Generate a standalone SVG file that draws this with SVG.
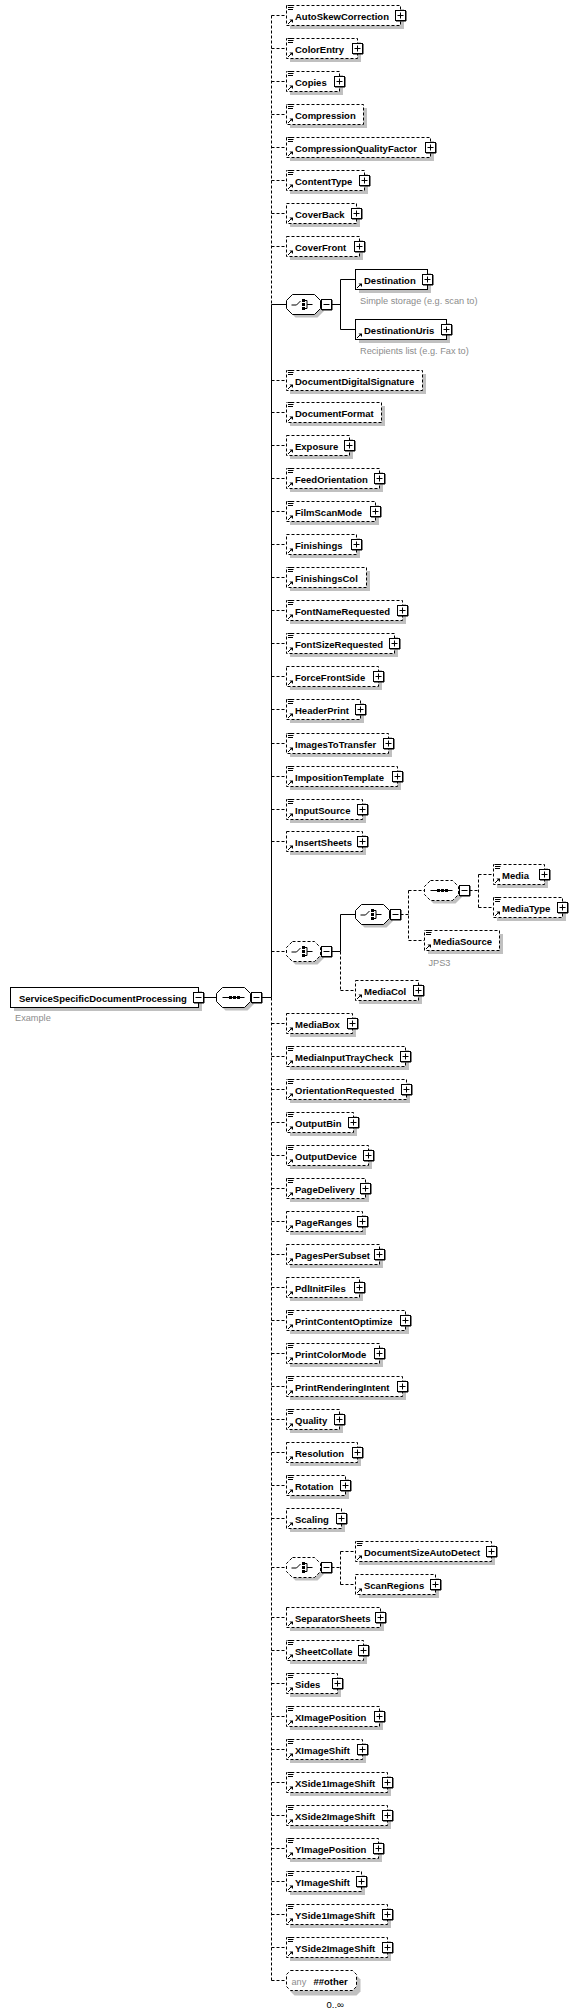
<svg xmlns="http://www.w3.org/2000/svg" xmlns:xlink="http://www.w3.org/1999/xlink" width="576" height="2016" viewBox="0 0 576 2016">
<style>
text{font-family:"Liberation Sans",Arial,sans-serif}
.n text{font-size:9.5px;font-weight:bold;fill:#000}
.n text.a,text.a{font-size:9.2px;fill:#8c8c8c;font-weight:normal}
.n text.m{font-size:9.5px;font-weight:normal;fill:#000}
.sh{fill:#c0c0c0;stroke:none}
.bo{fill:#fff;stroke:#000;stroke-dasharray:3 2}
.bm{fill:#fff;stroke:#000}
.ln{fill:none;stroke:#000}
.dl{fill:none;stroke:#000;stroke-dasharray:3 2}
</style>
<defs>
<g id="plus"><rect x="-5" y="-5" width="10" height="10" fill="#fff" stroke="#000"/><path d="M5.5 -4.5V5.5H-4.5" fill="none" stroke="#000"/><path d="M-3 0H3M0 -3V3" stroke="#000"/></g>
<g id="minus"><rect x="-5" y="-5" width="10" height="10" fill="#fff" stroke="#000"/><path d="M5.5 -4.5V5.5H-4.5" fill="none" stroke="#000"/><path d="M-3 0H3" stroke="#000"/></g>
<g id="doc"><rect x="1" y="-10.5" width="7" height="6" fill="#fff"/><path d="M1.5 -10H7.5M1.5 -8H7M1.5 -6H6.5" stroke="#000" fill="none"/></g>
<g id="ref"><path d="M1.5 8.5L5 5" stroke="#000" fill="none"/><path d="M3 4H6.5V7.5Z" fill="#000"/></g>
<polygon id="oct" points="6,-10 28,-10 34,-4 34,4 28,10 6,10 0,4 0,-4"/>
<g id="chc"><path d="M5 0.5H10L14 -3.5" stroke="#000" fill="none"/><rect x="15.5" y="-5.5" width="3" height="3" fill="#000"/><rect x="15.5" y="-1.5" width="3" height="3" fill="#000"/><rect x="15.5" y="2.5" width="3" height="3" fill="#000"/><path d="M18 -4H20.5V4H18M20.5 0H26" stroke="#000" fill="none"/></g>
<g id="seq"><path d="M6 0H28" stroke="#000" fill="none"/><rect x="12.5" y="-1.5" width="3" height="3" fill="#000"/><rect x="16.5" y="-1.5" width="3" height="3" fill="#000"/><rect x="20.5" y="-1.5" width="3" height="3" fill="#000"/></g>
</defs>

<g id="connectors">
<path class="dl" d="M271.5 15.5V304.5M271.5 997.5V1980.5"/>
<path class="ln" d="M271.5 304.5V997.5"/>
<path class="ln" d="M203.5 997.5H216.5M261.5 997.5H271.5"/>
<path class="dl" d="M271.5 15.5H286.5M271.5 48.5H286.5M271.5 81.5H286.5M271.5 114.5H286.5M271.5 147.5H286.5M271.5 180.5H286.5M271.5 213.5H286.5M271.5 246.5H286.5M271.5 380.5H286.5M271.5 412.5H286.5M271.5 445.5H286.5M271.5 478.5H286.5M271.5 511.5H286.5M271.5 544.5H286.5M271.5 577.5H286.5M271.5 610.5H286.5M271.5 643.5H286.5M271.5 676.5H286.5M271.5 709.5H286.5M271.5 743.5H286.5M271.5 776.5H286.5M271.5 809.5H286.5M271.5 841.5H286.5M271.5 951.5H286.5M271.5 1023.5H286.5M271.5 1056.5H286.5M271.5 1089.5H286.5M271.5 1122.5H286.5M271.5 1155.5H286.5M271.5 1188.5H286.5M271.5 1221.5H286.5M271.5 1254.5H286.5M271.5 1287.5H286.5M271.5 1320.5H286.5M271.5 1353.5H286.5M271.5 1386.5H286.5M271.5 1419.5H286.5M271.5 1452.5H286.5M271.5 1485.5H286.5M271.5 1518.5H286.5M271.5 1567.5H286.5M271.5 1617.5H286.5M271.5 1650.5H286.5M271.5 1683.5H286.5M271.5 1716.5H286.5M271.5 1749.5H286.5M271.5 1782.5H286.5M271.5 1815.5H286.5M271.5 1848.5H286.5M271.5 1881.5H286.5M271.5 1914.5H286.5M271.5 1947.5H286.5M271.5 1980.5H286.5"/>
<path class="ln" d="M271.5 304.5H286.5M331.5 304.5H340.5M340.5 279.5V329.5M340.5 279.5H355.5M340.5 329.5H355.5"/>
<path class="ln" d="M331.5 951.5H340.5M340.5 914.5V951.5M340.5 914.5H355.5"/>
<path class="dl" d="M340.5 951.5V990.5M340.5 990.5H355.5M400.5 914.5H408.5M408.5 890.5V940.5M408.5 890.5H424.5M408.5 940.5H424.5M469.5 890.5H478.5M478.5 874.5V907.5M478.5 874.5H493.5M478.5 907.5H493.5"/>
<path class="dl" d="M331.5 1567.5H340.5M340.5 1551.5V1584.5M340.5 1551.5H355.5M340.5 1584.5H355.5"/>
</g>

<g id="ServiceSpecificDocumentProcessing" class="n" transform="translate(10.5,997.5)"><rect class="sh" x="3.5" y="-6.5" width="188" height="20"/><rect class="bm" y="-10" width="188" height="20"/><text x="8.5" y="4">ServiceSpecificDocumentProcessing</text><use href="#minus" x="188"/><text class="a" x="4.5" y="23">Example</text></g>
<g id="seq-root" transform="translate(216.5,997.5)"><use href="#oct" class="sh" x="3" y="3"/><use href="#oct" class="bm"/><use href="#seq"/><use href="#minus" x="40"/></g>

<g id="AutoSkewCorrection" class="n" transform="translate(286.5,15.5)"><rect class="sh" x="3.5" y="-6.5" width="114" height="20"/><rect class="bo" y="-10" width="114" height="20"/><use href="#doc"/><use href="#ref"/><text x="8.5" y="4">AutoSkewCorrection</text><use href="#plus" x="114"/></g>
<g id="ColorEntry" class="n" transform="translate(286.5,48.5)"><rect class="sh" x="3.5" y="-6.5" width="71" height="20"/><rect class="bo" y="-10" width="71" height="20"/><use href="#doc"/><use href="#ref"/><text x="8.5" y="4">ColorEntry</text><use href="#plus" x="71"/></g>
<g id="Copies" class="n" transform="translate(286.5,81.5)"><rect class="sh" x="3.5" y="-6.5" width="53" height="20"/><rect class="bo" y="-10" width="53" height="20"/><use href="#doc"/><use href="#ref"/><text x="8.5" y="4">Copies</text><use href="#plus" x="53"/></g>
<g id="Compression" class="n" transform="translate(286.5,114.5)"><rect class="sh" x="3.5" y="-6.5" width="77" height="20"/><rect class="bo" y="-10" width="77" height="20"/><use href="#doc"/><use href="#ref"/><text x="8.5" y="4">Compression</text></g>
<g id="CompressionQualityFactor" class="n" transform="translate(286.5,147.5)"><rect class="sh" x="3.5" y="-6.5" width="144" height="20"/><rect class="bo" y="-10" width="144" height="20"/><use href="#doc"/><use href="#ref"/><text x="8.5" y="4">CompressionQualityFactor</text><use href="#plus" x="144"/></g>
<g id="ContentType" class="n" transform="translate(286.5,180.5)"><rect class="sh" x="3.5" y="-6.5" width="78" height="20"/><rect class="bo" y="-10" width="78" height="20"/><use href="#doc"/><use href="#ref"/><text x="8.5" y="4">ContentType</text><use href="#plus" x="78"/></g>
<g id="CoverBack" class="n" transform="translate(286.5,213.5)"><rect class="sh" x="3.5" y="-6.5" width="70" height="20"/><rect class="bo" y="-10" width="70" height="20"/><use href="#ref"/><text x="8.5" y="4">CoverBack</text><use href="#plus" x="70"/></g>
<g id="CoverFront" class="n" transform="translate(286.5,246.5)"><rect class="sh" x="3.5" y="-6.5" width="73" height="20"/><rect class="bo" y="-10" width="73" height="20"/><use href="#ref"/><text x="8.5" y="4">CoverFront</text><use href="#plus" x="73"/></g>

<g id="choice-destination" transform="translate(286.5,304.5)"><use href="#oct" class="sh" x="3" y="3"/><use href="#oct" class="bm"/><use href="#chc"/><use href="#minus" x="40"/></g>
<g id="Destination" class="n" transform="translate(355.5,279.5)"><rect class="sh" x="3.5" y="-6.5" width="72" height="20"/><rect class="bm" y="-10" width="72" height="20"/><use href="#ref"/><text x="8.5" y="4">Destination</text><use href="#plus" x="72"/><text class="a" x="4.5" y="24.5">Simple storage (e.g. scan to)</text></g>
<g id="DestinationUris" class="n" transform="translate(355.5,329.5)"><rect class="sh" x="3.5" y="-6.5" width="91" height="20"/><rect class="bm" y="-10" width="91" height="20"/><use href="#ref"/><text x="8.5" y="4">DestinationUris</text><use href="#plus" x="91"/><text class="a" x="4.5" y="24.5">Recipients list (e.g. Fax to)</text></g>

<g id="DocumentDigitalSignature" class="n" transform="translate(286.5,380.5)"><rect class="sh" x="3.5" y="-6.5" width="136" height="20"/><rect class="bo" y="-10" width="136" height="20"/><use href="#doc"/><use href="#ref"/><text x="8.5" y="4">DocumentDigitalSignature</text></g>
<g id="DocumentFormat" class="n" transform="translate(286.5,412.5)"><rect class="sh" x="3.5" y="-6.5" width="95" height="20"/><rect class="bo" y="-10" width="95" height="20"/><use href="#doc"/><use href="#ref"/><text x="8.5" y="4">DocumentFormat</text></g>
<g id="Exposure" class="n" transform="translate(286.5,445.5)"><rect class="sh" x="3.5" y="-6.5" width="63" height="20"/><rect class="bo" y="-10" width="63" height="20"/><use href="#ref"/><text x="8.5" y="4">Exposure</text><use href="#plus" x="63"/></g>
<g id="FeedOrientation" class="n" transform="translate(286.5,478.5)"><rect class="sh" x="3.5" y="-6.5" width="93" height="20"/><rect class="bo" y="-10" width="93" height="20"/><use href="#doc"/><use href="#ref"/><text x="8.5" y="4">FeedOrientation</text><use href="#plus" x="93"/></g>
<g id="FilmScanMode" class="n" transform="translate(286.5,511.5)"><rect class="sh" x="3.5" y="-6.5" width="89" height="20"/><rect class="bo" y="-10" width="89" height="20"/><use href="#doc"/><use href="#ref"/><text x="8.5" y="4">FilmScanMode</text><use href="#plus" x="89"/></g>
<g id="Finishings" class="n" transform="translate(286.5,544.5)"><rect class="sh" x="3.5" y="-6.5" width="70" height="20"/><rect class="bo" y="-10" width="70" height="20"/><use href="#ref"/><text x="8.5" y="4">Finishings</text><use href="#plus" x="70"/></g>
<g id="FinishingsCol" class="n" transform="translate(286.5,577.5)"><rect class="sh" x="3.5" y="-6.5" width="80" height="20"/><rect class="bo" y="-10" width="80" height="20"/><use href="#doc"/><use href="#ref"/><text x="8.5" y="4">FinishingsCol</text></g>
<g id="FontNameRequested" class="n" transform="translate(286.5,610.5)"><rect class="sh" x="3.5" y="-6.5" width="116" height="20"/><rect class="bo" y="-10" width="116" height="20"/><use href="#doc"/><use href="#ref"/><text x="8.5" y="4">FontNameRequested</text><use href="#plus" x="116"/></g>
<g id="FontSizeRequested" class="n" transform="translate(286.5,643.5)"><rect class="sh" x="3.5" y="-6.5" width="108" height="20"/><rect class="bo" y="-10" width="108" height="20"/><use href="#doc"/><use href="#ref"/><text x="8.5" y="4">FontSizeRequested</text><use href="#plus" x="108"/></g>
<g id="ForceFrontSide" class="n" transform="translate(286.5,676.5)"><rect class="sh" x="3.5" y="-6.5" width="92" height="20"/><rect class="bo" y="-10" width="92" height="20"/><use href="#ref"/><text x="8.5" y="4">ForceFrontSide</text><use href="#plus" x="92"/></g>
<g id="HeaderPrint" class="n" transform="translate(286.5,709.5)"><rect class="sh" x="3.5" y="-6.5" width="74" height="20"/><rect class="bo" y="-10" width="74" height="20"/><use href="#doc"/><use href="#ref"/><text x="8.5" y="4">HeaderPrint</text><use href="#plus" x="74"/></g>
<g id="ImagesToTransfer" class="n" transform="translate(286.5,743.5)"><rect class="sh" x="3.5" y="-6.5" width="102" height="20"/><rect class="bo" y="-10" width="102" height="20"/><use href="#doc"/><use href="#ref"/><text x="8.5" y="4">ImagesToTransfer</text><use href="#plus" x="102"/></g>
<g id="ImpositionTemplate" class="n" transform="translate(286.5,776.5)"><rect class="sh" x="3.5" y="-6.5" width="111" height="20"/><rect class="bo" y="-10" width="111" height="20"/><use href="#doc"/><use href="#ref"/><text x="8.5" y="4">ImpositionTemplate</text><use href="#plus" x="111"/></g>
<g id="InputSource" class="n" transform="translate(286.5,809.5)"><rect class="sh" x="3.5" y="-6.5" width="76" height="20"/><rect class="bo" y="-10" width="76" height="20"/><use href="#doc"/><use href="#ref"/><text x="8.5" y="4">InputSource</text><use href="#plus" x="76"/></g>
<g id="InsertSheets" class="n" transform="translate(286.5,841.5)"><rect class="sh" x="3.5" y="-6.5" width="76" height="20"/><rect class="bo" y="-10" width="76" height="20"/><use href="#ref"/><text x="8.5" y="4">InsertSheets</text><use href="#plus" x="76"/></g>

<g id="choice-media-outer" transform="translate(286.5,951.5)"><use href="#oct" class="sh" x="3" y="3"/><use href="#oct" class="bo"/><use href="#chc"/><use href="#minus" x="40"/></g>
<g id="choice-media-inner" transform="translate(355.5,914.5)"><use href="#oct" class="sh" x="3" y="3"/><use href="#oct" class="bm"/><use href="#chc"/><use href="#minus" x="40"/></g>
<g id="seq-media" transform="translate(424.5,890.5)"><use href="#oct" class="sh" x="3" y="3"/><use href="#oct" class="bo"/><use href="#seq"/><use href="#minus" x="40"/></g>
<g id="Media" class="n" transform="translate(493.5,874.5)"><rect class="sh" x="3.5" y="-6.5" width="51" height="20"/><rect class="bo" y="-10" width="51" height="20"/><use href="#doc"/><use href="#ref"/><text x="8.5" y="4">Media</text><use href="#plus" x="51"/></g>
<g id="MediaType" class="n" transform="translate(493.5,907.5)"><rect class="sh" x="3.5" y="-6.5" width="69" height="20"/><rect class="bo" y="-10" width="69" height="20"/><use href="#doc"/><use href="#ref"/><text x="8.5" y="4">MediaType</text><use href="#plus" x="69"/></g>
<g id="MediaSource" class="n" transform="translate(424.5,940.5)"><rect class="sh" x="3.5" y="-6.5" width="75" height="20"/><rect class="bo" y="-10" width="75" height="20"/><use href="#doc"/><use href="#ref"/><text x="8.5" y="4">MediaSource</text><text class="a" x="4" y="25.5">JPS3</text></g>
<g id="MediaCol" class="n" transform="translate(355.5,990.5)"><rect class="sh" x="3.5" y="-6.5" width="63" height="20"/><rect class="bo" y="-10" width="63" height="20"/><use href="#ref"/><text x="8.5" y="4">MediaCol</text><use href="#plus" x="63"/></g>

<g id="MediaBox" class="n" transform="translate(286.5,1023.5)"><rect class="sh" x="3.5" y="-6.5" width="66" height="20"/><rect class="bo" y="-10" width="66" height="20"/><use href="#ref"/><text x="8.5" y="4">MediaBox</text><use href="#plus" x="66"/></g>
<g id="MediaInputTrayCheck" class="n" transform="translate(286.5,1056.5)"><rect class="sh" x="3.5" y="-6.5" width="119" height="20"/><rect class="bo" y="-10" width="119" height="20"/><use href="#doc"/><use href="#ref"/><text x="8.5" y="4">MediaInputTrayCheck</text><use href="#plus" x="119"/></g>
<g id="OrientationRequested" class="n" transform="translate(286.5,1089.5)"><rect class="sh" x="3.5" y="-6.5" width="120" height="20"/><rect class="bo" y="-10" width="120" height="20"/><use href="#doc"/><use href="#ref"/><text x="8.5" y="4">OrientationRequested</text><use href="#plus" x="120"/></g>
<g id="OutputBin" class="n" transform="translate(286.5,1122.5)"><rect class="sh" x="3.5" y="-6.5" width="67" height="20"/><rect class="bo" y="-10" width="67" height="20"/><use href="#doc"/><use href="#ref"/><text x="8.5" y="4">OutputBin</text><use href="#plus" x="67"/></g>
<g id="OutputDevice" class="n" transform="translate(286.5,1155.5)"><rect class="sh" x="3.5" y="-6.5" width="82" height="20"/><rect class="bo" y="-10" width="82" height="20"/><use href="#doc"/><use href="#ref"/><text x="8.5" y="4">OutputDevice</text><use href="#plus" x="82"/></g>
<g id="PageDelivery" class="n" transform="translate(286.5,1188.5)"><rect class="sh" x="3.5" y="-6.5" width="79" height="20"/><rect class="bo" y="-10" width="79" height="20"/><use href="#doc"/><use href="#ref"/><text x="8.5" y="4">PageDelivery</text><use href="#plus" x="79"/></g>
<g id="PageRanges" class="n" transform="translate(286.5,1221.5)"><rect class="sh" x="3.5" y="-6.5" width="76" height="20"/><rect class="bo" y="-10" width="76" height="20"/><use href="#ref"/><text x="8.5" y="4">PageRanges</text><use href="#plus" x="76"/></g>
<g id="PagesPerSubset" class="n" transform="translate(286.5,1254.5)"><rect class="sh" x="3.5" y="-6.5" width="93" height="20"/><rect class="bo" y="-10" width="93" height="20"/><use href="#ref"/><text x="8.5" y="4">PagesPerSubset</text><use href="#plus" x="93"/></g>
<g id="PdlInitFiles" class="n" transform="translate(286.5,1287.5)"><rect class="sh" x="3.5" y="-6.5" width="73" height="20"/><rect class="bo" y="-10" width="73" height="20"/><use href="#ref"/><text x="8.5" y="4">PdlInitFiles</text><use href="#plus" x="73"/></g>
<g id="PrintContentOptimize" class="n" transform="translate(286.5,1320.5)"><rect class="sh" x="3.5" y="-6.5" width="119" height="20"/><rect class="bo" y="-10" width="119" height="20"/><use href="#doc"/><use href="#ref"/><text x="8.5" y="4">PrintContentOptimize</text><use href="#plus" x="119"/></g>
<g id="PrintColorMode" class="n" transform="translate(286.5,1353.5)"><rect class="sh" x="3.5" y="-6.5" width="93" height="20"/><rect class="bo" y="-10" width="93" height="20"/><use href="#doc"/><use href="#ref"/><text x="8.5" y="4">PrintColorMode</text><use href="#plus" x="93"/></g>
<g id="PrintRenderingIntent" class="n" transform="translate(286.5,1386.5)"><rect class="sh" x="3.5" y="-6.5" width="116" height="20"/><rect class="bo" y="-10" width="116" height="20"/><use href="#doc"/><use href="#ref"/><text x="8.5" y="4">PrintRenderingIntent</text><use href="#plus" x="116"/></g>
<g id="Quality" class="n" transform="translate(286.5,1419.5)"><rect class="sh" x="3.5" y="-6.5" width="53" height="20"/><rect class="bo" y="-10" width="53" height="20"/><use href="#doc"/><use href="#ref"/><text x="8.5" y="4">Quality</text><use href="#plus" x="53"/></g>
<g id="Resolution" class="n" transform="translate(286.5,1452.5)"><rect class="sh" x="3.5" y="-6.5" width="71" height="20"/><rect class="bo" y="-10" width="71" height="20"/><use href="#ref"/><text x="8.5" y="4">Resolution</text><use href="#plus" x="71"/></g>
<g id="Rotation" class="n" transform="translate(286.5,1485.5)"><rect class="sh" x="3.5" y="-6.5" width="59" height="20"/><rect class="bo" y="-10" width="59" height="20"/><use href="#doc"/><use href="#ref"/><text x="8.5" y="4">Rotation</text><use href="#plus" x="59"/></g>
<g id="Scaling" class="n" transform="translate(286.5,1518.5)"><rect class="sh" x="3.5" y="-6.5" width="55" height="20"/><rect class="bo" y="-10" width="55" height="20"/><use href="#ref"/><text x="8.5" y="4">Scaling</text><use href="#plus" x="55"/></g>

<g id="choice-docsize" transform="translate(286.5,1567.5)"><use href="#oct" class="sh" x="3" y="3"/><use href="#oct" class="bo"/><use href="#chc"/><use href="#minus" x="40"/></g>
<g id="DocumentSizeAutoDetect" class="n" transform="translate(355.5,1551.5)"><rect class="sh" x="3.5" y="-6.5" width="136" height="20"/><rect class="bo" y="-10" width="136" height="20"/><use href="#doc"/><use href="#ref"/><text x="8.5" y="4">DocumentSizeAutoDetect</text><use href="#plus" x="136"/></g>
<g id="ScanRegions" class="n" transform="translate(355.5,1584.5)"><rect class="sh" x="3.5" y="-6.5" width="80" height="20"/><rect class="bo" y="-10" width="80" height="20"/><use href="#ref"/><text x="8.5" y="4">ScanRegions</text><use href="#plus" x="80"/></g>

<g id="SeparatorSheets" class="n" transform="translate(286.5,1617.5)"><rect class="sh" x="3.5" y="-6.5" width="94" height="20"/><rect class="bo" y="-10" width="94" height="20"/><use href="#ref"/><text x="8.5" y="4">SeparatorSheets</text><use href="#plus" x="94"/></g>
<g id="SheetCollate" class="n" transform="translate(286.5,1650.5)"><rect class="sh" x="3.5" y="-6.5" width="77" height="20"/><rect class="bo" y="-10" width="77" height="20"/><use href="#doc"/><use href="#ref"/><text x="8.5" y="4">SheetCollate</text><use href="#plus" x="77"/></g>
<g id="Sides" class="n" transform="translate(286.5,1683.5)"><rect class="sh" x="3.5" y="-6.5" width="51" height="20"/><rect class="bo" y="-10" width="51" height="20"/><use href="#doc"/><use href="#ref"/><text x="8.5" y="4">Sides</text><use href="#plus" x="51"/></g>
<g id="XImagePosition" class="n" transform="translate(286.5,1716.5)"><rect class="sh" x="3.5" y="-6.5" width="93" height="20"/><rect class="bo" y="-10" width="93" height="20"/><use href="#doc"/><use href="#ref"/><text x="8.5" y="4">XImagePosition</text><use href="#plus" x="93"/></g>
<g id="XImageShift" class="n" transform="translate(286.5,1749.5)"><rect class="sh" x="3.5" y="-6.5" width="76" height="20"/><rect class="bo" y="-10" width="76" height="20"/><use href="#doc"/><use href="#ref"/><text x="8.5" y="4">XImageShift</text><use href="#plus" x="76"/></g>
<g id="XSide1ImageShift" class="n" transform="translate(286.5,1782.5)"><rect class="sh" x="3.5" y="-6.5" width="101" height="20"/><rect class="bo" y="-10" width="101" height="20"/><use href="#doc"/><use href="#ref"/><text x="8.5" y="4">XSide1ImageShift</text><use href="#plus" x="101"/></g>
<g id="XSide2ImageShift" class="n" transform="translate(286.5,1815.5)"><rect class="sh" x="3.5" y="-6.5" width="101" height="20"/><rect class="bo" y="-10" width="101" height="20"/><use href="#doc"/><use href="#ref"/><text x="8.5" y="4">XSide2ImageShift</text><use href="#plus" x="101"/></g>
<g id="YImagePosition" class="n" transform="translate(286.5,1848.5)"><rect class="sh" x="3.5" y="-6.5" width="92" height="20"/><rect class="bo" y="-10" width="92" height="20"/><use href="#doc"/><use href="#ref"/><text x="8.5" y="4">YImagePosition</text><use href="#plus" x="92"/></g>
<g id="YImageShift" class="n" transform="translate(286.5,1881.5)"><rect class="sh" x="3.5" y="-6.5" width="75" height="20"/><rect class="bo" y="-10" width="75" height="20"/><use href="#doc"/><use href="#ref"/><text x="8.5" y="4">YImageShift</text><use href="#plus" x="75"/></g>
<g id="YSide1ImageShift" class="n" transform="translate(286.5,1914.5)"><rect class="sh" x="3.5" y="-6.5" width="101" height="20"/><rect class="bo" y="-10" width="101" height="20"/><use href="#doc"/><use href="#ref"/><text x="8.5" y="4">YSide1ImageShift</text><use href="#plus" x="101"/></g>
<g id="YSide2ImageShift" class="n" transform="translate(286.5,1947.5)"><rect class="sh" x="3.5" y="-6.5" width="101" height="20"/><rect class="bo" y="-10" width="101" height="20"/><use href="#doc"/><use href="#ref"/><text x="8.5" y="4">YSide2ImageShift</text><use href="#plus" x="101"/></g>

<g id="any-other" class="n" transform="translate(286.5,1980.5)"><polygon class="sh" points="4,-10 66,-10 70,-6 70,6 66,10 4,10 0,6 0,-6" transform="translate(4,5)"/><polygon class="bo" points="4,-10 66,-10 70,-6 70,6 66,10 4,10 0,6 0,-6"/><text class="a" x="5" y="4">any</text><text x="27" y="4">##other</text><text class="m" x="40" y="27">0..∞</text></g>
</svg>
